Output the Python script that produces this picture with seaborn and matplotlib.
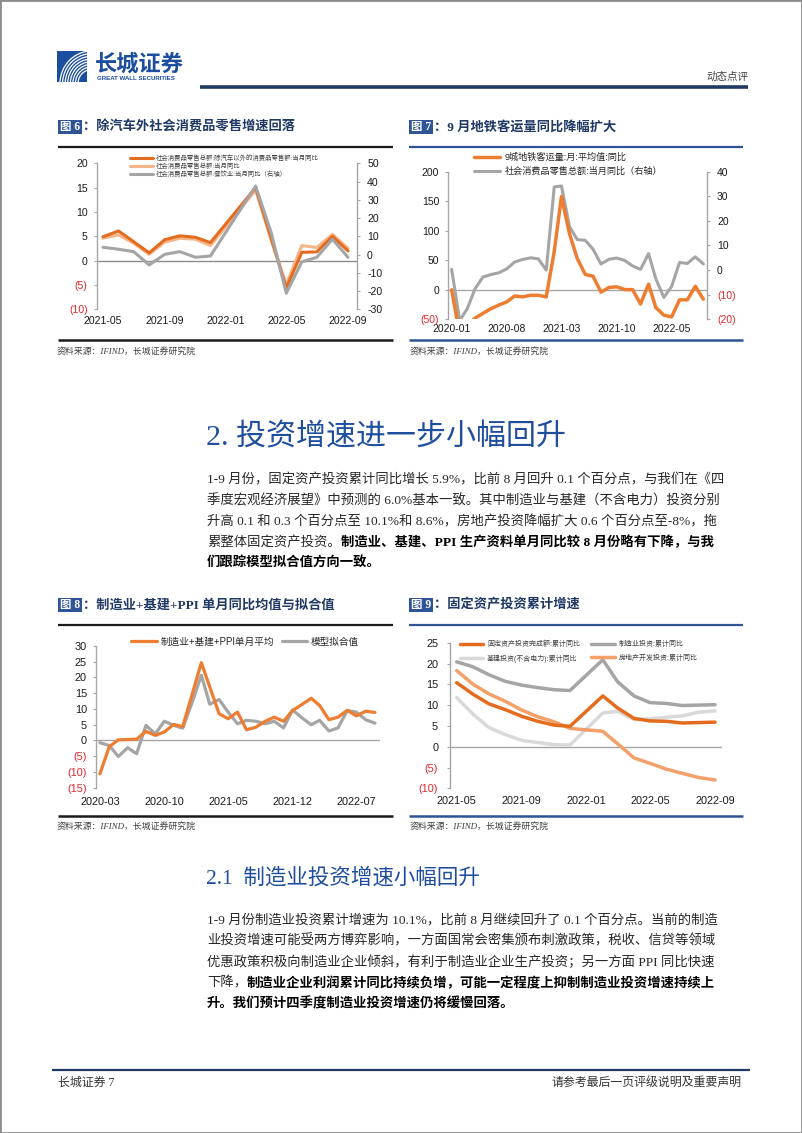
import numpy as np
import pandas as pd
import matplotlib
matplotlib.use("Agg")
import matplotlib.pyplot as plt
from matplotlib.patches import Rectangle, Arc
from matplotlib.lines import Line2D
import seaborn as sns

# ---------------- data ----------------
# Fig 6
f6_dates = ["2021-05", "2021-06", "2021-07", "2021-08", "2021-09", "2021-10", "2021-11", "2021-12",
            "2022-03", "2022-04", "2022-05", "2022-06", "2022-07", "2022-08", "2022-09"]
f6_ex_auto = [4.9, 6.1, 3.9, 1.6, 4.3, 5.1, 4.8, 3.7, 15.0, 4.6, -5.6, 1.7, 1.8, 5.0, 2.0]
f6_total = [4.6, 5.3, 3.6, 1.3, 3.8, 4.6, 4.4, 3.1, 14.5, 4.2, -4.9, 3.1, 2.7, 5.4, 2.5]
f6_catering = [4.0, 2.9, 1.6, -5.7, 0.1, 1.6, -1.5, -0.8, 37.5, 12.0, -21.2, -4.0, -1.5, 8.4, -1.5]
f6_labels = ["社会消费品零售总额:除汽车以外的消费品零售额:当月同比",
             "社会消费品零售总额:当月同比",
             "社会消费品零售总额:餐饮业:当月同比（右轴）"]
f6_xticks = ["2021-05", "2021-09", "2022-01", "2022-05", "2022-09"]

# Fig 7
f7_dates = [f"{y}-{m:02d}" for y in (2020, 2021, 2022) for m in range(1, 13)][:33]
f7_subway = [0, -75, -60, -48, -40, -32, -26, -20.5, -10.5, -12, -9.3, -9.3,
             -12, 65, 158, 95, 53, 26, 23, -4, 4, 5, 0.3, 0.3,
             -24, 9.5, -30, -43, -46, -17, -17, 6, -16]
f7_retail = [0.3, -20.5, -15.8, -7.5, -2.8, -1.8, -1.1, 0.5, 3.3, 4.3, 5.0, 4.6,
             0.0, 33.8, 34.2, 17.7, 12.4, 12.1, 8.5, 2.5, 4.4, 4.9, 3.9, 1.7,
             0.3, 6.7, -3.5, -11.1, -6.7, 3.1, 2.7, 5.4, 2.5]
f7_labels = ["9城地铁客运量:月:平均值:同比", "社会消费品零售总额:当月同比（右轴）"]
f7_xticks = ["2020-01", "2020-08", "2021-03", "2021-10", "2022-05"]

# Fig 8
f8_dates = [f"{y}-{m:02d}" for y in (2020, 2021, 2022) for m in range(1, 13)][2:33]
f8_actual = [-10.6, -2.0, 0.2, 0.3, 0.4, 2.9, 1.6, 2.7, 5.1, 4.4, 14.5, 24.7, 17.0, 8.5, 6.9, 9.0,
             3.4, 4.2, 6.1, 7.4, 6.1, 9.5, 11.4, 13.4, 11.1, 6.6, 7.4, 9.6, 7.8, 9.3, 8.9]
f8_model = [-0.7, -1.6, -5.1, -2.3, -4.2, 4.8, 2.1, 6.1, 4.8, 3.9, 12.0, 20.7, 11.5, 13.0, 9.0, 5.3,
            6.4, 6.1, 5.3, 6.1, 4.0, 9.7, 7.2, 5.0, 6.4, 3.0, 4.0, 9.5, 9.0, 6.6, 5.5]
f8_labels = ["制造业+基建+PPI单月平均", "模型拟合值"]
f8_xticks = ["2020-03", "2020-10", "2021-05", "2021-12", "2022-07"]

# Fig 9
f9_dates = ["2021-05", "2021-06", "2021-07", "2021-08", "2021-09", "2021-10", "2021-11", "2021-12",
            "2022-02", "2022-03", "2022-04", "2022-05", "2022-06", "2022-07", "2022-08", "2022-09"]
f9_fai = [15.4, 12.6, 10.3, 8.9, 7.3, 6.1, 5.2, 4.9, 12.2, 9.3, 6.8, 6.2, 6.1, 5.7, 5.8, 5.9]
f9_mfg = [20.4, 19.2, 17.3, 15.7, 14.8, 14.2, 13.7, 13.5, 20.9, 15.6, 12.2, 10.6, 10.4, 9.9, 10.0, 10.1]
f9_infra = [11.8, 7.8, 4.6, 2.9, 1.5, 1.0, 0.5, 0.4, 8.1, 8.5, 6.5, 6.7, 7.1, 7.4, 8.3, 8.6]
f9_re = [18.3, 15.0, 12.7, 10.9, 8.8, 7.2, 6.0, 4.4, 3.7, 0.7, -2.7, -4.0, -5.4, -6.4, -7.4, -8.0]
f9_labels = ["固定资产投资完成额:累计同比", "基建投资(不含电力):累计同比",
             "制造业投资:累计同比", "房地产开发投资:累计同比"]
f9_xticks = ["2021-05", "2021-09", "2022-01", "2022-05", "2022-09"]

# text
para1 = [
    [("1-9 月份，固定资产投资累计同比增长 5.9%，比前 8 月回升 0.1 个百分点，与我们在《四", False)],
    [("季度宏观经济展望》中预测的 6.0%基本一致。其中制造业与基建（不含电力）投资分别", False)],
    [("升高 0.1 和 0.3 个百分点至 10.1%和 8.6%，房地产投资降幅扩大 0.6 个百分点至-8%，拖", False)],
    [("累整体固定资产投资。", False), ("制造业、基建、PPI 生产资料单月同比较 8 月份略有下降，与我", True)],
    [("们跟踪模型拟合值方向一致。", True)],
]
para2 = [
    [("1-9 月份制造业投资累计增速为 10.1%，比前 8 月继续回升了 0.1 个百分点。当前的制造", False)],
    [("业投资增速可能受两方博弈影响，一方面国常会密集颁布刺激政策，税收、信贷等领域", False)],
    [("优惠政策积极向制造业企业倾斜，有利于制造业企业生产投资；另一方面 PPI 同比快速", False)],
    [("下降，", False), ("制造业企业利润累计同比持续负增，可能一定程度上抑制制造业投资增速持续上", True)],
    [("升。我们预计四季度制造业投资增速仍将缓慢回落。", True)],
]

# ---------------- style ----------------
sns.set_style("white")
SANS = ["Liberation Sans", "Noto Sans CJK SC"]
SERIF = ["Liberation Serif", "Noto Sans CJK SC"]
plt.rcParams["font.family"] = SANS
plt.rcParams["axes.unicode_minus"] = False

W, H = 802, 1133
fig = plt.figure(figsize=(W / 100, H / 100), dpi=100)
fig.patch.set_facecolor("white")

RED = "#E0262A"
SPINE = "#A6A6A6"
TXT = "#1A1A1A"
NAVY = "#1F3864"
BLUE = "#2F5597"
HEAD_BLUE = "#1F4E9E"
ORANGE = "#ED7D31"
ORANGE_D = "#E46C1E"
ORANGE_L = "#F6B489"
ORANGE_M = "#F4A06A"
GRAY = "#A5A5A5"
GRAY_L = "#D9D9D9"


def X(px):
    return px / W


def Y(py):
    return 1 - py / H


def hline(x0, x1, y, color, lw):
    fig.add_artist(Line2D([X(x0), X(x1)], [Y(y), Y(y)], transform=fig.transFigure,
                          color=color, lw=lw, solid_capstyle="butt"))


def ftext(x, y, s, **kw):
    return fig.text(X(x), Y(y), s, **kw)


def make_axes(l, t, r, b):
    ax = fig.add_axes([X(l), Y(b), (r - l) / W, (b - t) / H])
    ax.set_facecolor("none")
    return ax


def paren(v):
    v = int(round(v))
    return f"({abs(v)})" if v < 0 else f"{v}"


def plain(v):
    return f"{int(round(v))}"


def setup_y(ax, lo, hi, step, side, fmt, red_neg, fs, pad=4):
    ticks = np.arange(lo, hi + step / 2, step)
    ax.set_ylim(lo, hi)
    ax.set_yticks(ticks)
    ax.set_yticklabels([fmt(t) for t in ticks])
    for lab, t in zip(ax.get_yticklabels(), ticks):
        lab.set_color(RED if (red_neg and t < 0) else TXT)
    ax.tick_params(axis="y", direction="out", length=2.5, width=0.8, color=SPINE,
                   labelsize=fs, pad=pad,
                   left=(side == "left"), right=(side == "right"),
                   labelleft=(side == "left"), labelright=(side == "right"))
    for k in ["top", "bottom", "left", "right"]:
        ax.spines[k].set_visible(k == side)
    ax.spines[side].set_color(SPINE)
    ax.spines[side].set_linewidth(1.0)
    ax.set_ylabel("")
    ax.grid(False)


def setup_x(ax, dates, lpad, rpad, ticks, pad, fs):
    d = pd.to_datetime(dates)
    ax.set_xlim(d.min() - pd.Timedelta(days=lpad), d.max() + pd.Timedelta(days=rpad))
    ax.set_xticks(pd.to_datetime(ticks))
    ax.set_xticklabels(ticks)
    ax.tick_params(axis="x", length=0, labelsize=fs, pad=pad, colors=TXT)
    ax.set_xlabel("")


def draw(ax, dates, vals, color, lw, label):
    sns.lineplot(x=pd.to_datetime(dates), y=vals, ax=ax, color=color, linewidth=lw,
                 label=label, legend=False)
    return ax.lines[-1]


def title_block(x, y, num, text, line_color, x_end):
    fig.add_artist(Rectangle((X(x), Y(y + 7)), 24 / W, 14 / H, transform=fig.transFigure,
                             facecolor=BLUE, edgecolor="none"))
    ftext(x + 12, y, num, ha="center", va="center", fontsize=8.3, color="white",
          weight="bold", family=SERIF)
    ftext(x + 25, y, "：" + text, ha="left", va="center", fontsize=9.5, color=NAVY,
          weight="bold", family=SERIF)
    hline(x, x_end, y + 20, line_color, 1.6)


# ---------------- header ----------------
fig.add_artist(Rectangle((0, 0), 1, 1, transform=fig.transFigure, fill=False,
                         edgecolor="#8C8C8C", lw=2))
lax = fig.add_axes([X(57), Y(82), 30 / W, 31 / H])
lax.set_xlim(0, 1)
lax.set_ylim(0, 1)
lax.axis("off")
lax.add_patch(Rectangle((0, 0), 1, 1, facecolor="#1B4E9E", edgecolor="none"))
for r in np.linspace(0.45, 1.05, 8):
    lax.add_patch(Arc((1.15, -0.05), 2 * r, 2 * r, theta1=95, theta2=178,
                      color="white", lw=0.9))
ftext(95, 64, "长城证券", fontsize=16, weight="bold", color="#1B4E9E",
      family=["Noto Sans CJK SC"], va="center", ha="left")
ftext(97, 79, "GREAT WALL SECURITIES", fontsize=4.4, weight="bold", color="#1B4E9E",
      va="center", ha="left")
hline(200, 748, 87, NAVY, 2.6)
ftext(748, 77, "动态点评", fontsize=7.6, color="#404040", ha="right", va="center",
      family=["Noto Sans CJK SC"])

# ---------------- figure titles ----------------
title_block(58, 127, "图 6", "除汽车外社会消费品零售增速回落", "#1A1A1A", 393)
title_block(409, 127, "图 7", "9 月地铁客运量同比降幅扩大", BLUE, 743)
title_block(58, 605, "图 8", "制造业+基建+PPI 单月同比均值与拟合值", "#1A1A1A", 393)
title_block(409, 605, "图 9", "固定资产投资累计增速", BLUE, 743)
hline(58, 393, 340, "#1A1A1A", 1.8)
hline(409, 743, 340, BLUE, 1.8)
hline(58, 393, 816, "#1A1A1A", 1.8)
hline(409, 743, 816, BLUE, 1.8)
for (sx, sy) in [(57, 352), (410, 352), (57, 827), (410, 827)]:
    ftext(sx, sy, "资料来源：IFIND，长城证券研究院", fontsize=6.4, style="italic",
          family=SERIF, color="#404040", va="center", ha="left")

# ---------------- Fig 6 ----------------
FS6 = 7.6
ax6 = make_axes(96.7, 163.3, 356.7, 309.3)
ax6.axhline(0, color="#8C8C8C", lw=1.0, zorder=1)
h6b = draw(ax6, f6_dates, f6_total, ORANGE_L, 2.2, f6_labels[1])
h6a = draw(ax6, f6_dates, f6_ex_auto, ORANGE_D, 2.2, f6_labels[0])
setup_y(ax6, -10, 20, 5, "left", paren, True, FS6)
setup_x(ax6, f6_dates, 12.5, 17.3, f6_xticks, 5.0, FS6)
ax6r = ax6.twinx()
h6c = draw(ax6r, f6_dates, f6_catering, GRAY, 2.2, f6_labels[2])
setup_y(ax6r, -30, 50, 10, "right", plain, False, FS6, pad=5)
ax6r.set_xlabel("")
ax6r.legend([h6a, h6b, h6c], f6_labels, loc="upper left", bbox_to_anchor=(0.128, 1.06),
            frameon=False, prop={"family": SANS, "size": 4.6}, labelcolor="#404040",
            handlelength=3.6, handletextpad=0.45, labelspacing=0.2, borderpad=0,
            borderaxespad=0)

# ---------------- Fig 7 ----------------
FS7 = 7.5
ax7 = make_axes(448.3, 171.7, 706.7, 319.3)
ax7r = ax7.twinx()
h7b = draw(ax7r, f7_dates, f7_retail, GRAY, 2.2, f7_labels[1])
setup_y(ax7r, -20, 40, 10, "right", paren, True, FS7, pad=5)
ax7r.set_xlabel("")
ax7.axhline(0, color=SPINE, lw=1.0, zorder=1)
h7a = draw(ax7, f7_dates, f7_subway, ORANGE, 2.5, f7_labels[0])
setup_y(ax7, -50, 200, 50, "left", paren, True, FS7)
setup_x(ax7, f7_dates, 13, 13, f7_xticks, 3.6, FS7)
ax7.set_zorder(ax7r.get_zorder() + 1)
ax7.patch.set_visible(False)
ax7.legend([h7a, h7b], f7_labels, loc="upper left", bbox_to_anchor=(0.1, 1.128),
           frameon=False, prop={"family": SANS, "size": 6.6}, labelcolor="#262626",
           handlelength=2.8, handletextpad=0.5, labelspacing=0.55, borderpad=0,
           borderaxespad=0)

# ---------------- Fig 8 ----------------
FS8 = 7.8
ax8 = make_axes(96, 646, 380, 787.7)
ax8.axhline(0, color=SPINE, lw=1.0, zorder=1)
h8b = draw(ax8, f8_dates, f8_model, GRAY, 2.3, f8_labels[1])
h8a = draw(ax8, f8_dates, f8_actual, ORANGE, 2.3, f8_labels[0])
setup_y(ax8, -15, 30, 5, "left", paren, True, FS8)
setup_x(ax8, f8_dates, 13, 16.6, f8_xticks, 7.0, FS8)
ax8.legend([h8a, h8b], f8_labels, loc="upper left", bbox_to_anchor=(0.124, 1.065), ncol=2,
           frameon=False, prop={"family": SANS, "size": 6.9}, labelcolor="#262626",
           handlelength=2.7, handletextpad=0.35, columnspacing=0.8, borderpad=0,
           borderaxespad=0)

# ---------------- Fig 9 ----------------
FS9 = 7.8
ax9 = make_axes(450, 642.7, 721.7, 788.3)
ax9.axhline(0, color=SPINE, lw=1.0, zorder=1)
h9c = draw(ax9, f9_dates, f9_mfg, GRAY, 2.5, f9_labels[2])
h9b = draw(ax9, f9_dates, f9_infra, GRAY_L, 2.5, f9_labels[1])
h9d = draw(ax9, f9_dates, f9_re, ORANGE_M, 2.5, f9_labels[3])
h9a = draw(ax9, f9_dates, f9_fai, ORANGE_D, 2.5, f9_labels[0])
setup_y(ax9, -10, 25, 5, "left", paren, True, FS9, pad=6)
setup_x(ax9, f9_dates, 12.6, 12.6, f9_xticks, 5.5, FS9)
ax9.legend([h9a, h9b, h9c, h9d], f9_labels, loc="upper left", bbox_to_anchor=(0.035, 1.012),
           ncol=2, frameon=False, prop={"family": SANS, "size": 5.0}, labelcolor="#404040",
           handlelength=3.4, handletextpad=0.55, columnspacing=1.6, labelspacing=0.9,
           borderpad=0, borderaxespad=0)

# ---------------- body text ----------------
renderer = fig.canvas.get_renderer()


def put_lines(x0, y0, dy, lines, size):
    for i, runs in enumerate(lines):
        x = x0
        for s, bold in runs:
            t = ftext(x, y0 + i * dy, s, fontsize=size, family=SERIF,
                      weight="bold" if bold else "normal",
                      color="#000000" if bold else "#262626", va="center", ha="left")
            x += t.get_window_extent(renderer).width


ftext(206, 437, "2. 投资增速进一步小幅回升", fontsize=21.6, color=HEAD_BLUE, family=SERIF,
      va="center", ha="left")
put_lines(207, 480, 20.8, para1, 9.6)
ftext(206, 878, "2.1  制造业投资增速小幅回升", fontsize=15.5, color=HEAD_BLUE, family=SERIF,
      va="center", ha="left")
put_lines(207, 920, 21.0, para2, 9.6)

# ---------------- footer ----------------
hline(52, 750, 1070, NAVY, 1.6)
ftext(58, 1083, "长城证券 7", fontsize=8.6, color="#333333", family=SERIF, va="center", ha="left")
ftext(742, 1083, "请参考最后一页评级说明及重要声明", fontsize=8.6, color="#333333",
      family=SERIF, va="center", ha="right")

fig.savefig("out.png", dpi=100, facecolor="white")
